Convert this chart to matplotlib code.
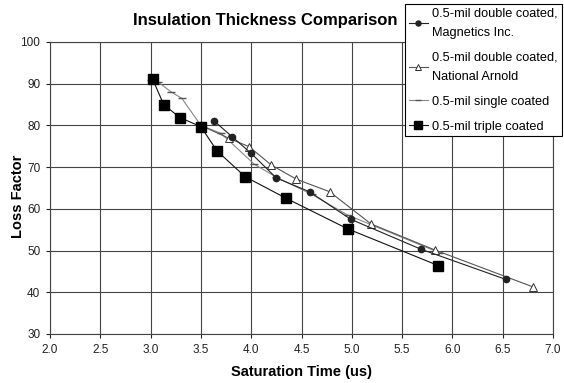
import matplotlib.pyplot as plt

# data
mag_x = [3.63, 3.81, 4.0, 4.25, 4.58, 4.99, 5.69, 6.53]
mag_y = [81.1, 77.3, 73.3, 67.4, 64.1, 57.5, 50.3, 43.1]

na_x = [3.5, 3.78, 3.98, 4.2, 4.45, 4.78, 5.19, 5.83, 6.8]
na_y = [80.0, 76.9, 74.9, 70.5, 67.1, 64.1, 56.4, 50.1, 41.3]

single_x = [3.0, 3.07, 3.2, 3.31, 3.5, 3.7, 4.03, 4.25, 4.6, 4.96, 5.87]
single_y = [91.0, 90.5, 88.1, 86.5, 80.0, 78.1, 70.7, 67.6, 63.5, 58.5, 49.5]

triple_x = [3.02, 3.13, 3.29, 3.5, 3.66, 3.94, 4.35, 4.96, 5.86]
triple_y = [91.1, 85.0, 81.9, 79.7, 73.9, 67.7, 62.5, 55.2, 46.4]

labels = ["0.5-mil double coated,\nMagnetics Inc.",
          "0.5-mil double coated,\nNational Arnold",
          "0.5-mil single coated",
          "0.5-mil triple coated"]

plt.rcParams['font.family'] = ['Liberation Sans', 'DejaVu Sans']

fig = plt.figure(figsize=(5.64, 3.83), dpi=100)
ax = fig.add_axes([50 / 564, 49 / 383, 503 / 564, 292 / 383])

l1, = ax.plot(mag_x, mag_y, color="#222222", lw=0.8, marker="o", ms=4.5,
              mfc="#222222", mec="#222222", zorder=4)
l2, = ax.plot(na_x, na_y, color="#555555", lw=0.8, marker="^", ms=6,
              mfc="white", mec="#333333", mew=0.7, zorder=3)
l3, = ax.plot(single_x, single_y, color="#888888", lw=0.8, marker="_", ms=6,
              mec="#555555", zorder=2)
l4, = ax.plot(triple_x, triple_y, color="#111111", lw=0.8, marker="s", ms=7,
              mfc="black", mec="black", zorder=5)

ax.set_xlim(2.0, 7.0)
ax.set_ylim(30, 100)
ax.set_xticks([2.0 + 0.5 * i for i in range(11)])
ax.set_xticklabels(["%.1f" % (2.0 + 0.5 * i) for i in range(11)])
ax.set_yticks(range(30, 101, 10))
ax.grid(True, color="#444444", lw=0.8)
ax.set_axisbelow(True)
for s in ax.spines.values():
    s.set_color("#444444")
    s.set_linewidth(0.8)
ax.tick_params(direction="out", length=3, labelsize=8.5, colors="#222222", pad=4)

ax.set_xlabel("Saturation Time (us)", fontsize=10.5, fontweight="bold", labelpad=7)
ax.set_ylabel("Loss Factor", fontsize=10.5, fontweight="bold")
ax.yaxis.set_label_coords(-0.05, 0.47)
fig.text(265 / 564, 1 - 20 / 383, "Insulation Thickness Comparison",
         ha="center", va="center", fontsize=12, fontweight="bold")

leg = fig.legend([l1, l2, l3, l4], labels, loc="upper left",
                 bbox_to_anchor=(405 / 564, 1 - 4 / 383), borderaxespad=0,
                 fontsize=9.2, handlelength=1.5, handletextpad=0.35,
                 labelspacing=1.0, borderpad=0.3, fancybox=False,
                 framealpha=1, edgecolor="black", markerscale=0.8)
leg.get_frame().set_linewidth(0.8)
for t in leg.get_texts():
    t.set_linespacing(1.8)

fig.savefig("out.png", dpi=100)
